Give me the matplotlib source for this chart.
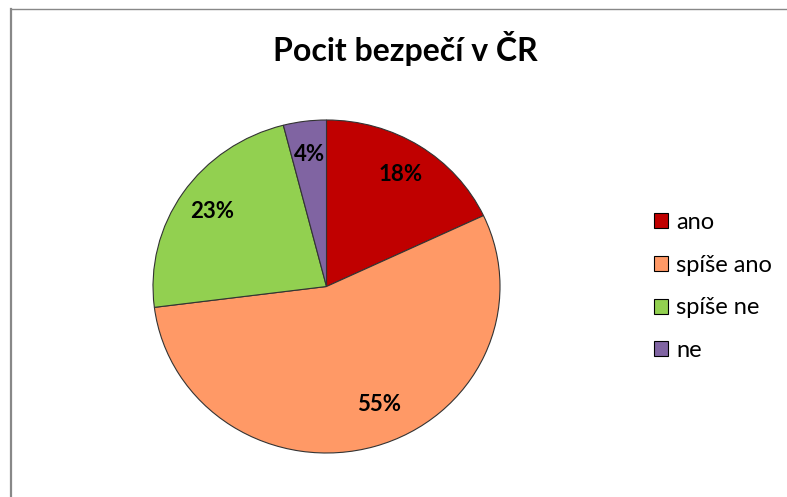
import matplotlib
matplotlib.use("Agg")
import matplotlib.pyplot as plt
from matplotlib.lines import Line2D
import numpy as np

plt.rcParams['font.family'] = ['Lato', 'Open Sans', 'DejaVu Sans']

title = "Pocit bezpečí v ČR"
categories = ["ano", "spíše ano", "spíše ne", "ne"]
values = [18, 55, 23, 4]
colors = ["#C00000", "#FF9966", "#92D050", "#8064A2"]

W, H = 787, 497
fig = plt.figure(figsize=(W / 100, H / 100), dpi=100)
fig.patch.set_facecolor("white")

# pie axes (slightly elliptical like the original)
cx, cy, rx, ry = 326.5, 286.5, 173.5, 166.5
ax = fig.add_axes([(cx - rx) / W, 1 - (cy + ry) / H, 2 * rx / W, 2 * ry / H])
wedges, texts, autotexts = ax.pie(
    values, colors=colors, startangle=90, counterclock=False,
    autopct=lambda p: f"{p:.0f}%", pctdistance=0.8,
    wedgeprops=dict(edgecolor="#333333", linewidth=0.8),
    textprops=dict(fontsize=16, fontweight="bold", color="black"))
ax.set_aspect("auto")
ax.set_xlim(-1, 1)
ax.set_ylim(-1, 1)

# nudge the large-slice label the way the original places it
w = wedges[1]
ang = np.deg2rad((w.theta1 + w.theta2) / 2 + 7)
autotexts[1].set_position((0.77 * np.cos(ang), 0.77 * np.sin(ang)))

fig.text(405 / W, 1 - 48 / H, title, ha="center", va="center",
         fontsize=23, fontweight="bold", color="black")

leg = fig.legend(wedges, categories, loc="center left",
                 bbox_to_anchor=(654 / W, 1 - 286.5 / H),
                 frameon=False, fontsize=17, handlelength=0.6, handleheight=0.6,
                 handletextpad=0.35, labelspacing=0.92, borderpad=0, borderaxespad=0)
for h in leg.legend_handles:
    h.set_edgecolor("black")
    h.set_linewidth(0.8)

# outer chart border (left and top visible)
fig.add_artist(Line2D([11 / W, 11 / W], [0, 1 - 9 / H], color="#888888", lw=1.6,
                      transform=fig.transFigure))
fig.add_artist(Line2D([11 / W, 1], [1 - 9 / H, 1 - 9 / H], color="#888888", lw=1.0,
                      transform=fig.transFigure))

fig.savefig("out.png", dpi=100)
